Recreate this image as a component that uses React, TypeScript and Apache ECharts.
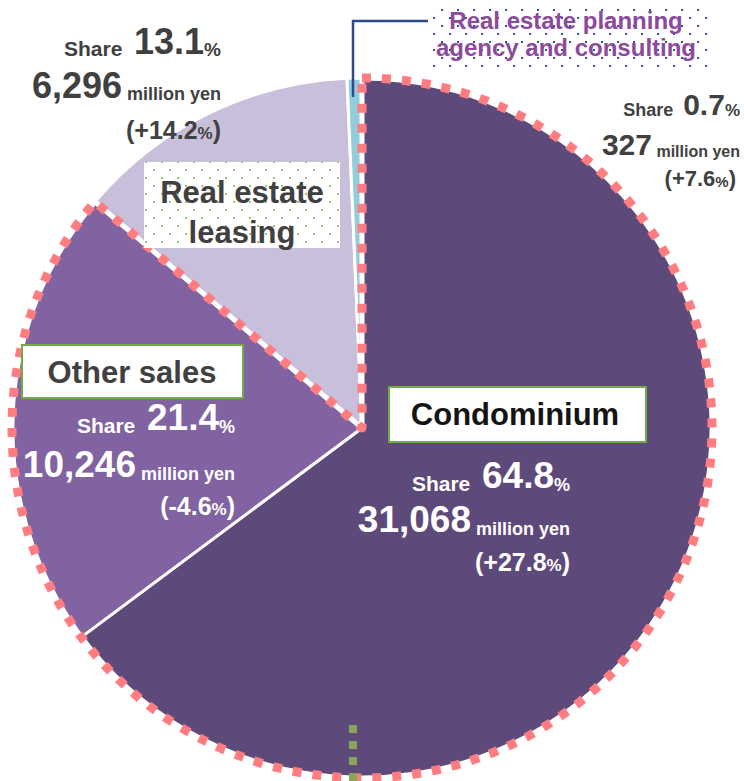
import React, { useEffect, useRef } from 'react';
import * as echarts from 'echarts';

// ---- data ----
const categories = [
  'Condominium',
  'Other sales',
  'Real estate leasing',
  'Real estate planning agency and consulting',
];
const salesMillionYen = [31068, 10246, 6296, 327];
const sharePct = [64.8, 21.4, 13.1, 0.7];
const yoyChangePct = ['+27.8', '-4.6', '+14.2', '+7.6'];
const titleLines = [['Condominium'], ['Other sales'], ['Real estate', 'leasing'], ['Real estate planning', 'agency and consulting']];

// ---- styles ----
const sliceColors = ['#5e4a7a', '#8063a0', '#c8bfda', '#92cddc'];
const FONT = '"Liberation Sans", Arial, sans-serif';
const CENTER: [number, number] = [362, 428];
const RADIUS = 350;

const labelLayouts = [
  { right: 570, right3: 570, base: [488, 532, 568], color: '#ffffff', s: 21, b: 37, p: 18, u: 18, c: 25, cp: 17 },
  { right: 235, right3: 235, base: [430, 477, 512], color: '#ffffff', s: 21, b: 37, p: 18, u: 18, c: 25, cp: 17 },
  { right: 221, right3: 221, base: [53, 97, 136], color: '#404040', s: 21, b: 36, p: 19, u: 18, c: 25, cp: 17 },
  { right: 740, right3: 736, base: [113, 153, 183], color: '#404040', s: 18, b: 30, p: 17, u: 16, c: 22, cp: 15 },
];

const D = 6;
function tok(fs: number, fill: string, family: string = FONT) {
  return {
    fontSize: fs,
    fontWeight: 'bold',
    fontFamily: family,
    fill,
    lineHeight: Math.round(2 * D + 0.693 * fs),
    verticalAlign: 'bottom',
  };
}

function lineText(x: number, baseline: number, text: string, rich: any) {
  return {
    type: 'text',
    x,
    y: baseline + D,
    z: 100,
    silent: true,
    style: {
      text,
      rich,
      align: 'right',
      verticalAlign: 'bottom',
      textAlign: 'right',
      textVerticalAlign: 'bottom',
    },
  };
}

function makePattern(color: string) {
  const c = document.createElement('canvas');
  c.width = 16;
  c.height = 16;
  const ctx = c.getContext('2d')!;
  ctx.fillStyle = color;
  ctx.fillRect(1, 1, 2, 2);
  ctx.fillRect(9, 9, 2, 2);
  return { image: c.toDataURL(), repeat: 'repeat', imageWidth: 16, imageHeight: 16 };
}

function centered(x: number, y: number, text: string, fs: number, fill: string, family = FONT, weight: any = 'bold', lineHeight?: number) {
  return {
    type: 'text',
    x,
    y,
    z: 101,
    silent: true,
    style: {
      text,
      fill,
      fontSize: fs,
      fontWeight: weight,
      fontFamily: family,
      lineHeight,
      align: 'center',
      verticalAlign: 'middle',
      textAlign: 'center',
      textVerticalAlign: 'middle',
    },
  };
}

export default function App() {
  const ref = useRef<HTMLDivElement>(null);

  useEffect(() => {
    if (!ref.current) return;
    const chart = echarts.init(ref.current, undefined, { renderer: 'svg' });

    const graphic: any[] = [];

    // value labels
    labelLayouts.forEach((L, i) => {
      const rich = {
        s: tok(L.s, L.color),
        b: tok(L.b, L.color),
        p: tok(L.p, L.color),
        u: tok(L.u, L.color),
        c: tok(L.c, L.color),
        cp: tok(L.cp, L.color),
      };
      const value = salesMillionYen[i].toLocaleString('en-US');
      graphic.push(lineText(L.right, L.base[0], `{s|Share  }{b|${sharePct[i].toFixed(1)}}{p|%}`, rich));
      graphic.push(lineText(L.right, L.base[1], `{b|${value}}{u| million yen}`, rich));
      graphic.push(lineText(L.right3, L.base[2], `{c|(${yoyChangePct[i]}}{cp|%}{c|)}`, rich));
    });

    // title boxes
    graphic.push({
      type: 'rect', z: 99, silent: true,
      shape: { x: 389, y: 387, width: 257, height: 55 },
      style: { fill: '#ffffff', stroke: '#70ad47', lineWidth: 2 },
    });
    graphic.push(centered(515, 414, titleLines[0][0], 31, '#141414'));

    graphic.push({
      type: 'rect', z: 99, silent: true,
      shape: { x: 22, y: 345, width: 221, height: 53 },
      style: { fill: '#ffffff', stroke: '#70ad47', lineWidth: 2 },
    });
    graphic.push(centered(132, 372, titleLines[1][0], 31, '#404040'));

    graphic.push({
      type: 'rect', z: 98, silent: true,
      shape: { x: 144, y: 162, width: 196, height: 86 },
      style: { fill: '#ffffff' },
    });
    graphic.push({
      type: 'rect', z: 99, silent: true,
      shape: { x: 144, y: 162, width: 196, height: 86 },
      style: { fill: makePattern('#a3c27a') },
    });
    graphic.push(centered(242, 212, titleLines[2].join('\n'), 31, '#404040', FONT, 'bold', 40));

    graphic.push({
      type: 'rect', z: 99, silent: true,
      shape: { x: 427, y: 5, width: 280, height: 64 },
      style: { fill: makePattern('#2f4f8f') },
    });
    graphic.push(centered(566, 34, titleLines[3].join('\n'), 24, '#8b4a9e', FONT, 'bold', 27));

    // leader line
    graphic.push({
      type: 'polyline', z: 100, silent: true,
      shape: { points: [[353, 97], [353, 21], [428, 21]] },
      style: { stroke: '#2f4a8a', lineWidth: 2.5, fill: 'none' },
    });
    // green dotted line at bottom
    graphic.push({
      type: 'line', z: 100, silent: true,
      shape: { x1: 353, y1: 725, x2: 353, y2: 781 },
      style: { stroke: '#8aa654', lineWidth: 8, lineDash: [8, 8] },
    });

    const pieData = categories.map((name, i) => ({
      name,
      value: salesMillionYen[i],
      itemStyle: { color: sliceColors[i] },
    }));

    const groupTotal = salesMillionYen[0] + salesMillionYen[1];
    const restTotal = salesMillionYen[2] + salesMillionYen[3];

    const outline = (itemStyle: any) => ({
      type: 'pie',
      center: CENTER,
      radius: RADIUS,
      startAngle: 90,
      clockwise: true,
      silent: true,
      label: { show: false },
      labelLine: { show: false },
      data: [
        { name: 'group', value: groupTotal, itemStyle: { color: 'rgba(0,0,0,0)', ...itemStyle } },
        { name: 'rest', value: restTotal, itemStyle: { color: 'rgba(0,0,0,0)', borderWidth: 0 } },
      ],
    });

    chart.setOption({
      animation: false,
      backgroundColor: '#ffffff',
      series: [
        {
          type: 'pie',
          center: CENTER,
          radius: RADIUS,
          startAngle: 90,
          clockwise: true,
          silent: true,
          label: { show: false },
          labelLine: { show: false },
          itemStyle: { borderColor: '#ffffff', borderWidth: 3 },
          data: pieData,
        },
        outline({ borderColor: '#ffffff', borderWidth: 5 }),
        outline({ borderColor: '#ff7c80', borderWidth: 9, borderType: [9, 11] }),
      ],
      graphic: { elements: graphic },
    });

    return () => chart.dispose();
  }, []);

  return (
    <div
      ref={ref}
      style={{ position: 'absolute', left: 0, top: 0, width: 744, height: 781 }}
    />
  );
}
